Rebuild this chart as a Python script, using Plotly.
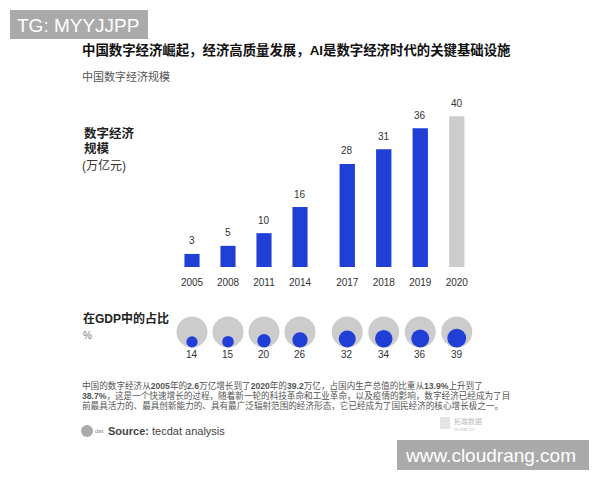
import plotly.graph_objects as go
import math

# ---------------- data ----------------
years = ["2005", "2008", "2011", "2014", "2017", "2018", "2019", "2020"]
scale_values = [3.4, 5.5, 8.8, 15.6, 26.8, 30.6, 36.1, 39.2]      # 万亿元 (bar heights)
scale_labels = ["3", "5", "10", "16", "28", "31", "36", "40"]
gdp_share = [14, 15, 20, 26, 32, 34, 36, 39]                      # % of GDP
bar_colors = ["#1f3fd6"] * 7 + ["#cccccc"]

title_text = "中国数字经济崛起，经济高质量发展，<b>AI</b>是数字经济时代的关键基础设施"
subtitle_text = "中国数字经济规模"
para_lines = [
    "中国的数字经济从<b>2005</b>年的<b>2.6</b>万亿增长到了<b>2020</b>年的<b>39.2</b>万亿，占国内生产总值的比重从<b>13.9%</b>上升到了",
    "<b>38.7%</b>，这是一个快速增长的过程，随着新一轮的科技革命和工业革命，以及疫情的影响，数字经济已经成为了目",
    "前最具活力的、最具创新能力的、具有最广泛辐射范围的经济形态，它已经成为了国民经济的核心增长极之一。",
]

W, H = 600, 480
FONT = "Liberation Sans, Arial, Noto Sans CJK SC, sans-serif"
BLUE = "#1f3fd6"
GRAY = "#cccccc"


def px(x):
    return x / W


def py(y):
    return (H - y) / H


groups = [(0, 4, "x"), (4, 8, "x2")]

fig = go.Figure()
GRAY_D = 31
for a, b, xa in groups:
    cats = years[a:b]
    fig.add_trace(go.Bar(
        x=cats, y=scale_values[a:b], xaxis=xa, yaxis="y",
        marker=dict(color=bar_colors[a:b], line=dict(width=0)),
        width=0.42, showlegend=False, hoverinfo="skip",
    ))
    # background grey circles (100%)
    fig.add_trace(go.Scatter(
        x=cats, y=[0] * len(cats), xaxis=xa, yaxis="y2", mode="markers",
        marker=dict(size=GRAY_D, color=GRAY, opacity=1, line=dict(width=0)),
        showlegend=False, hoverinfo="skip",
    ))
    # blue circles sized by share, sitting at the bottom of the grey ones
    ds = [3.0 * math.sqrt(v) for v in gdp_share[a:b]]
    fig.add_trace(go.Scatter(
        x=cats, y=[-GRAY_D / 2 + d / 2 for d in ds], xaxis=xa, yaxis="y2", mode="markers",
        marker=dict(size=ds, color=BLUE, opacity=1, line=dict(width=0)),
        showlegend=False, hoverinfo="skip",
    ))

annotations = []
for i, yr in enumerate(years):
    xa = "x" if i < 4 else "x2"
    ci = i if i < 4 else i - 4          # category index on its axis
    annotations.append(dict(x=ci, y=scale_values[i], xref=xa, yref="y", text=scale_labels[i],
                            showarrow=False, yanchor="middle", yshift=13,
                            font=dict(size=10, color="#333333", family=FONT)))
    annotations.append(dict(x=ci, y=-GRAY_D / 2, xref=xa, yref="y2", text=str(gdp_share[i]),
                            showarrow=False, yanchor="top", yshift=1,
                            font=dict(size=10, color="#333333", family=FONT)))

# texts
def txt(x, y, t, size, color="#222222", xanchor="left", yanchor="middle", family=FONT):
    annotations.append(dict(x=px(x), y=py(y), xref="paper", yref="paper", text=t,
                            showarrow=False, xanchor=xanchor, yanchor=yanchor, align="left",
                            font=dict(size=size, color=color, family=family)))

txt(80, 50, "<b>" + title_text + "</b>", 13.4, "#111111")
txt(80, 76, subtitle_text, 11, "#555555")
txt(82, 133, "<b>数字经济</b>", 12.5, "#222222")
txt(82, 148, "<b>规模</b>", 12.5, "#222222")
txt(80, 165, "(万亿元)", 12, "#333333")
txt(81, 318, "<b>在GDP中的占比</b>", 12, "#222222")
txt(81, 335, "%", 10, "#777777")
for k, line in enumerate(para_lines):
    txt(80, 385 + 10 * k, line, 8.6, "#555555")
txt(106, 431, "<b>Source:</b> tecdat analysis", 11, "#444444")
txt(93, 431, "dat", 6, "#888888", xanchor="left")
txt(452, 421, "拓端数据", 7, "#bbbbbb")
txt(452, 429, "tecdat.cn", 5, "#cccccc")
txt(15, 25, "TG: MYYJJPP", 19, "#ffffff")
txt(403, 455, "www.cloudrang.com", 19, "#ffffff")

shapes = [
    dict(type="rect", xref="paper", yref="paper", x0=px(10), x1=px(148), y0=py(39), y1=py(10),
         fillcolor="#aaaaaa", line=dict(width=0), layer="below"),
    dict(type="rect", xref="paper", yref="paper", x0=px(397), x1=px(589), y0=py(470), y1=py(440),
         fillcolor="#aaaaaa", line=dict(width=0), layer="below"),
    dict(type="circle", xref="paper", yref="paper", x0=px(81), x1=px(93), y0=py(437), y1=py(425),
         fillcolor="#aaaaaa", line=dict(width=0)),
    dict(type="rect", xref="paper", yref="paper", x0=px(440), x1=px(450), y0=py(429), y1=py(417),
         fillcolor="#e4e4e4", line=dict(width=0)),
]

axis_common = dict(type="category", range=[-0.5, 3.5], showgrid=False, zeroline=False,
                   showline=False, ticks="", tickfont=dict(size=10, color="#333333"),
                   ticklabelstandoff=8, fixedrange=True)

fig.update_layout(
    width=W, height=H, margin=dict(l=0, r=0, t=0, b=0),
    paper_bgcolor="white", plot_bgcolor="white",
    font=dict(family=FONT, size=10, color="#333333"),
    xaxis=dict(domain=[px(174), px(318)], anchor="y", **axis_common),
    xaxis2=dict(domain=[px(329), px(475)], anchor="y", **axis_common),
    yaxis=dict(domain=[py(267), py(94)], range=[0, 45], visible=False, fixedrange=True),
    yaxis2=dict(domain=[py(370), py(300)], range=[-38, 32], visible=False, fixedrange=True),
    annotations=annotations, shapes=shapes,
)

fig.write_html("out.html", config={"displayModeBar": False},
               post_script="document.body.style.margin='0px';")
